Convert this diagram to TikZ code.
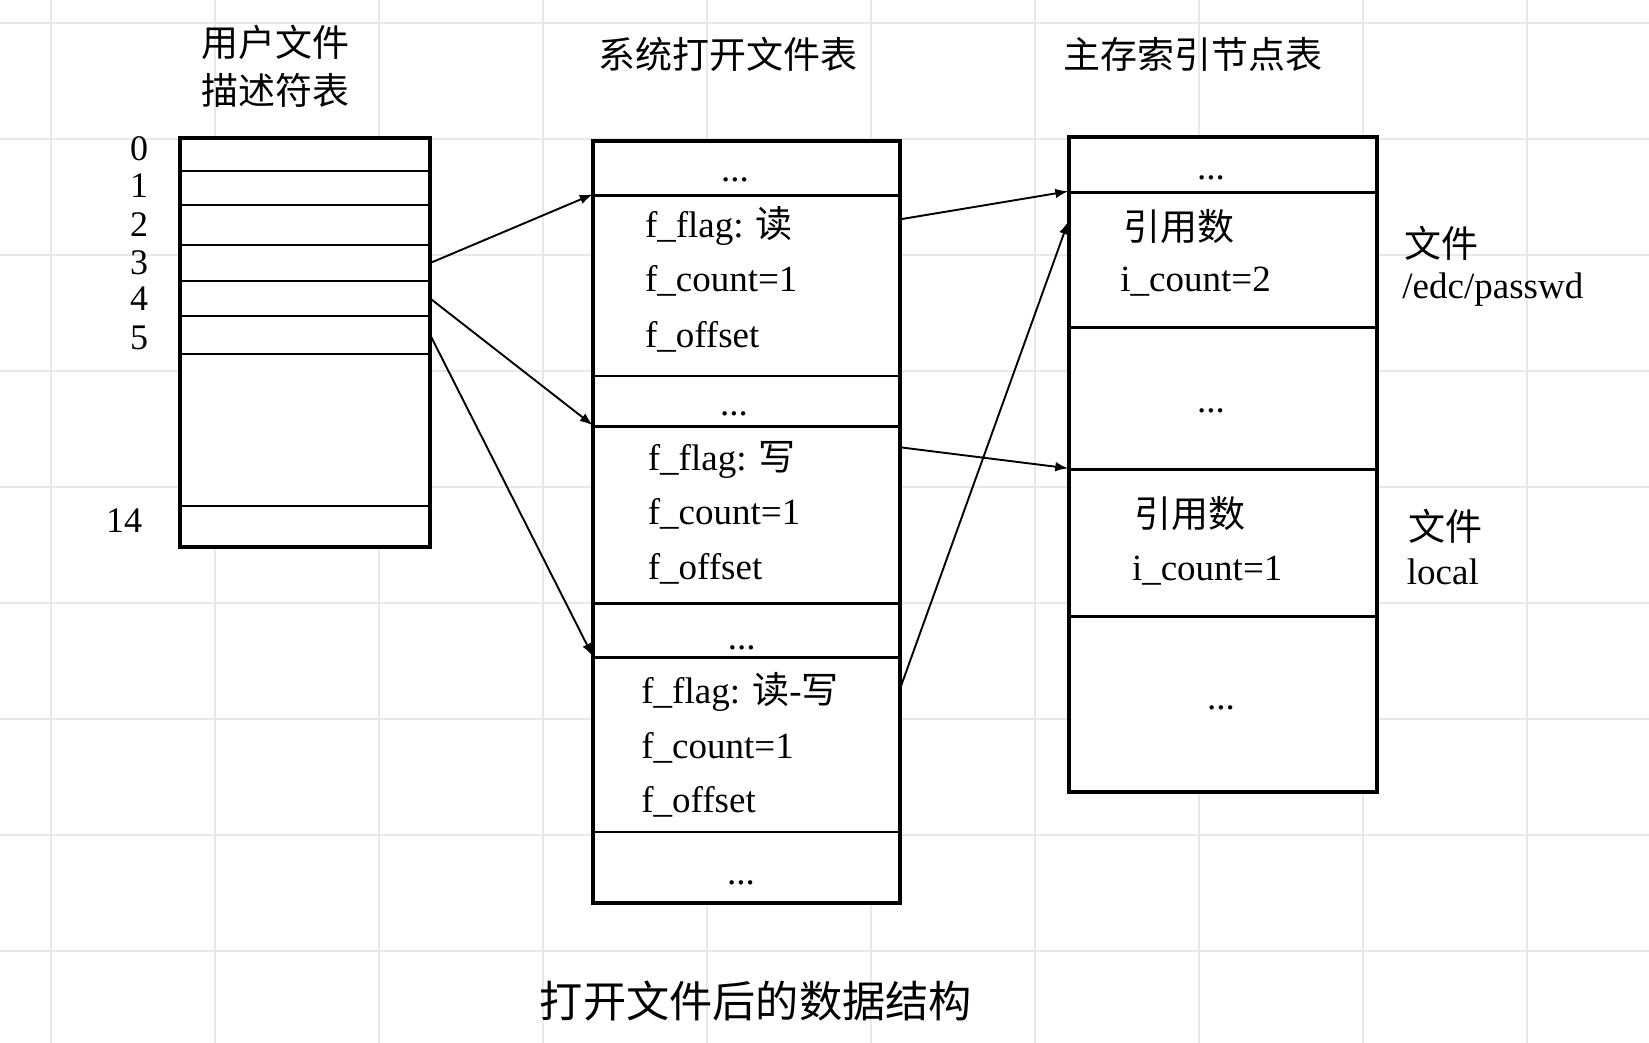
\documentclass[tikz,border=0pt]{standalone}
\usepackage{fontspec}
\setmainfont{Liberation Serif}
\newfontfamily\cjk{Noto Sans CJK SC}
\usetikzlibrary{arrows.meta,fit}

\tikzset{
  gridline/.style={black!9,line width=1.2pt},
  cell/.style={draw,fill=white,line width=1.2pt,inner sep=0pt},
  frame/.style={draw,line width=1.5pt,inner sep=0pt},
  ptr/.style={-{Latex[length=6.5pt,width=4.8pt]},line width=0.95pt},
  txt/.style={inner sep=0pt,anchor=base west,font=\fontsize{18.5}{22}\selectfont},
  more/.style={inner sep=0pt,anchor=base,font=\fontsize{18.5}{22}\selectfont},
  num/.style={inner sep=0pt,anchor=base east,font=\fontsize{18}{22}\selectfont},
  tabhead/.style={inner sep=0pt,anchor=base west,font=\fontsize{18.5}{22}\selectfont\cjk},
}

\begin{document}
\begin{tikzpicture}[x=0.5pt,y=-0.5pt]
  \useasboundingbox (0,0) rectangle (1649,1043);
  %grid
  \foreach \gx in {51,215,...,1527} \draw[gridline] (\gx,0) -- (\gx,1043);
  \foreach \gy in {23,139,...,951} \draw[gridline] (0,\gy) -- (1649,\gy);

  %user file descriptor table
  \node[cell,fit={(181,139) (429,171)}] (fd0) {};
  \node[cell,fit={(181,171) (429,205)}] (fd1) {};
  \node[cell,fit={(181,205) (429,245)}] (fd2) {};
  \node[cell,fit={(181,245) (429,281)}] (fd3) {};
  \node[cell,fit={(181,281) (429,316)}] (fd4) {};
  \node[cell,fit={(181,316) (429,354)}] (fd5) {};
  \node[cell,fit={(181,354) (429,506)}] (fdgap) {};
  \node[cell,fit={(181,506) (429,546)}] (fd14) {};
  \node[frame,fit=(fd0) (fd14)] (fdtable) {};
  \node[num] (n0) at (148.5,161) {0};
  \node[num] (n1) at (148.5,198) {1};
  \node[num] (n2) at (148.5,237) {2};
  \node[num] (n3) at (148.5,275) {3};
  \node[num] (n4) at (148.5,311) {4};
  \node[num] (n5) at (148.5,350) {5};
  \node[num] (n14) at (142.5,532) {14};
  \node[tabhead] (fdhead1) at (201,57) {用户文件};
  \node[tabhead] (fdhead2) at (201,105) {描述符表};

  %system open file table
  \node[cell,fit={(594,141.5) (899,195.5)}] (ft0) {};
  \node[cell,fit={(594,195.5) (899,376)}] (ft1) {};
  \node[cell,fit={(594,376) (899,426.5)}] (ft2) {};
  \node[cell,fit={(594,426.5) (899,603.5)}] (ft3) {};
  \node[cell,fit={(594,603.5) (899,657.5)}] (ft4) {};
  \node[cell,fit={(594,657.5) (899,832)}] (ft5) {};
  \node[cell,fit={(594,832) (899,902)}] (ft6) {};
  \node[frame,fit=(ft0) (ft6)] (fttable) {};
  \node[tabhead] (fthead) at (598.5,69) {系统打开文件表};

  %inode table
  \node[cell,fit={(1069.5,138) (1376,192.5)}] (it0) {};
  \node[cell,fit={(1069.5,192.5) (1376,327.5)}] (it1) {};
  \node[cell,fit={(1069.5,327.5) (1376,469.5)}] (it2) {};
  \node[cell,fit={(1069.5,469.5) (1376,616.5)}] (it3) {};
  \node[cell,fit={(1069.5,616.5) (1376,791)}] (it4) {};
  \node[frame,fit=(it0) (it4)] (ittable) {};
  \node[tabhead] (ithead) at (1062.8,69) {主存索引节点表};

  %pointers
  \draw[ptr] (fd3.east) -- (ft1.north west);
  \draw[ptr] (fd4.east) -- (ft3.north west);
  \draw[ptr] (fd5.east) -- (ft5.north west);
  \draw[ptr] ([yshift=-12.5pt]ft1.north east) -- (it1.north west);
  \draw[ptr] ([yshift=-11pt]ft3.north east) -- (it3.north west);
  \draw[ptr] ([yshift=-16pt]ft5.north east) -- ([yshift=-15pt]it1.north west);

  %entries
  \node[more] (ftm0) at (735,182) {...};
  \node[txt] (flag1) at (644.6,238) {f\_flag: {\cjk 读}};
  \node[txt] (count1) at (644.6,292) {f\_count=1};
  \node[txt] (offset1) at (644.6,347) {f\_offset};
  \node[more] (ftm1) at (734,415.5) {...};
  \node[txt] (flag2) at (647.5,470) {f\_flag: {\cjk 写}};
  \node[txt] (count2) at (647.5,524) {f\_count=1};
  \node[txt] (offset2) at (647.5,579) {f\_offset};
  \node[more] (ftm2) at (741.7,649) {...};
  \node[txt] (flag3) at (641,703) {f\_flag: {\cjk 读}-{\cjk 写}};
  \node[txt] (count3) at (641,758) {f\_count=1};
  \node[txt] (offset3) at (641,812) {f\_offset};
  \node[more] (ftm3) at (741,884) {...};

  \node[more] (itm0) at (1211,180) {...};
  \node[txt] (ref1) at (1123,241) {\cjk 引用数};
  \node[txt] (icount1) at (1120,292) {i\_count=2};
  \node[more] (itm1) at (1211,412) {...};
  \node[txt] (ref2) at (1134.5,527) {\cjk 引用数};
  \node[txt] (icount2) at (1131.6,580) {i\_count=1};
  \node[more] (itm2) at (1221,709) {...};

  %files
  \node[txt] (file1) at (1403.6,257) {\cjk 文件};
  \node[txt] (name1) at (1402,299) {/edc/passwd};
  \node[txt] (file2) at (1407.7,540) {\cjk 文件};
  \node[txt] (name2) at (1406.5,584) {local};

  %caption
  \node[tabhead,font=\fontsize{21.6}{26}\selectfont\cjk] (caption) at (539.5,1017) {打开文件后的数据结构};
\end{tikzpicture}
\end{document}
